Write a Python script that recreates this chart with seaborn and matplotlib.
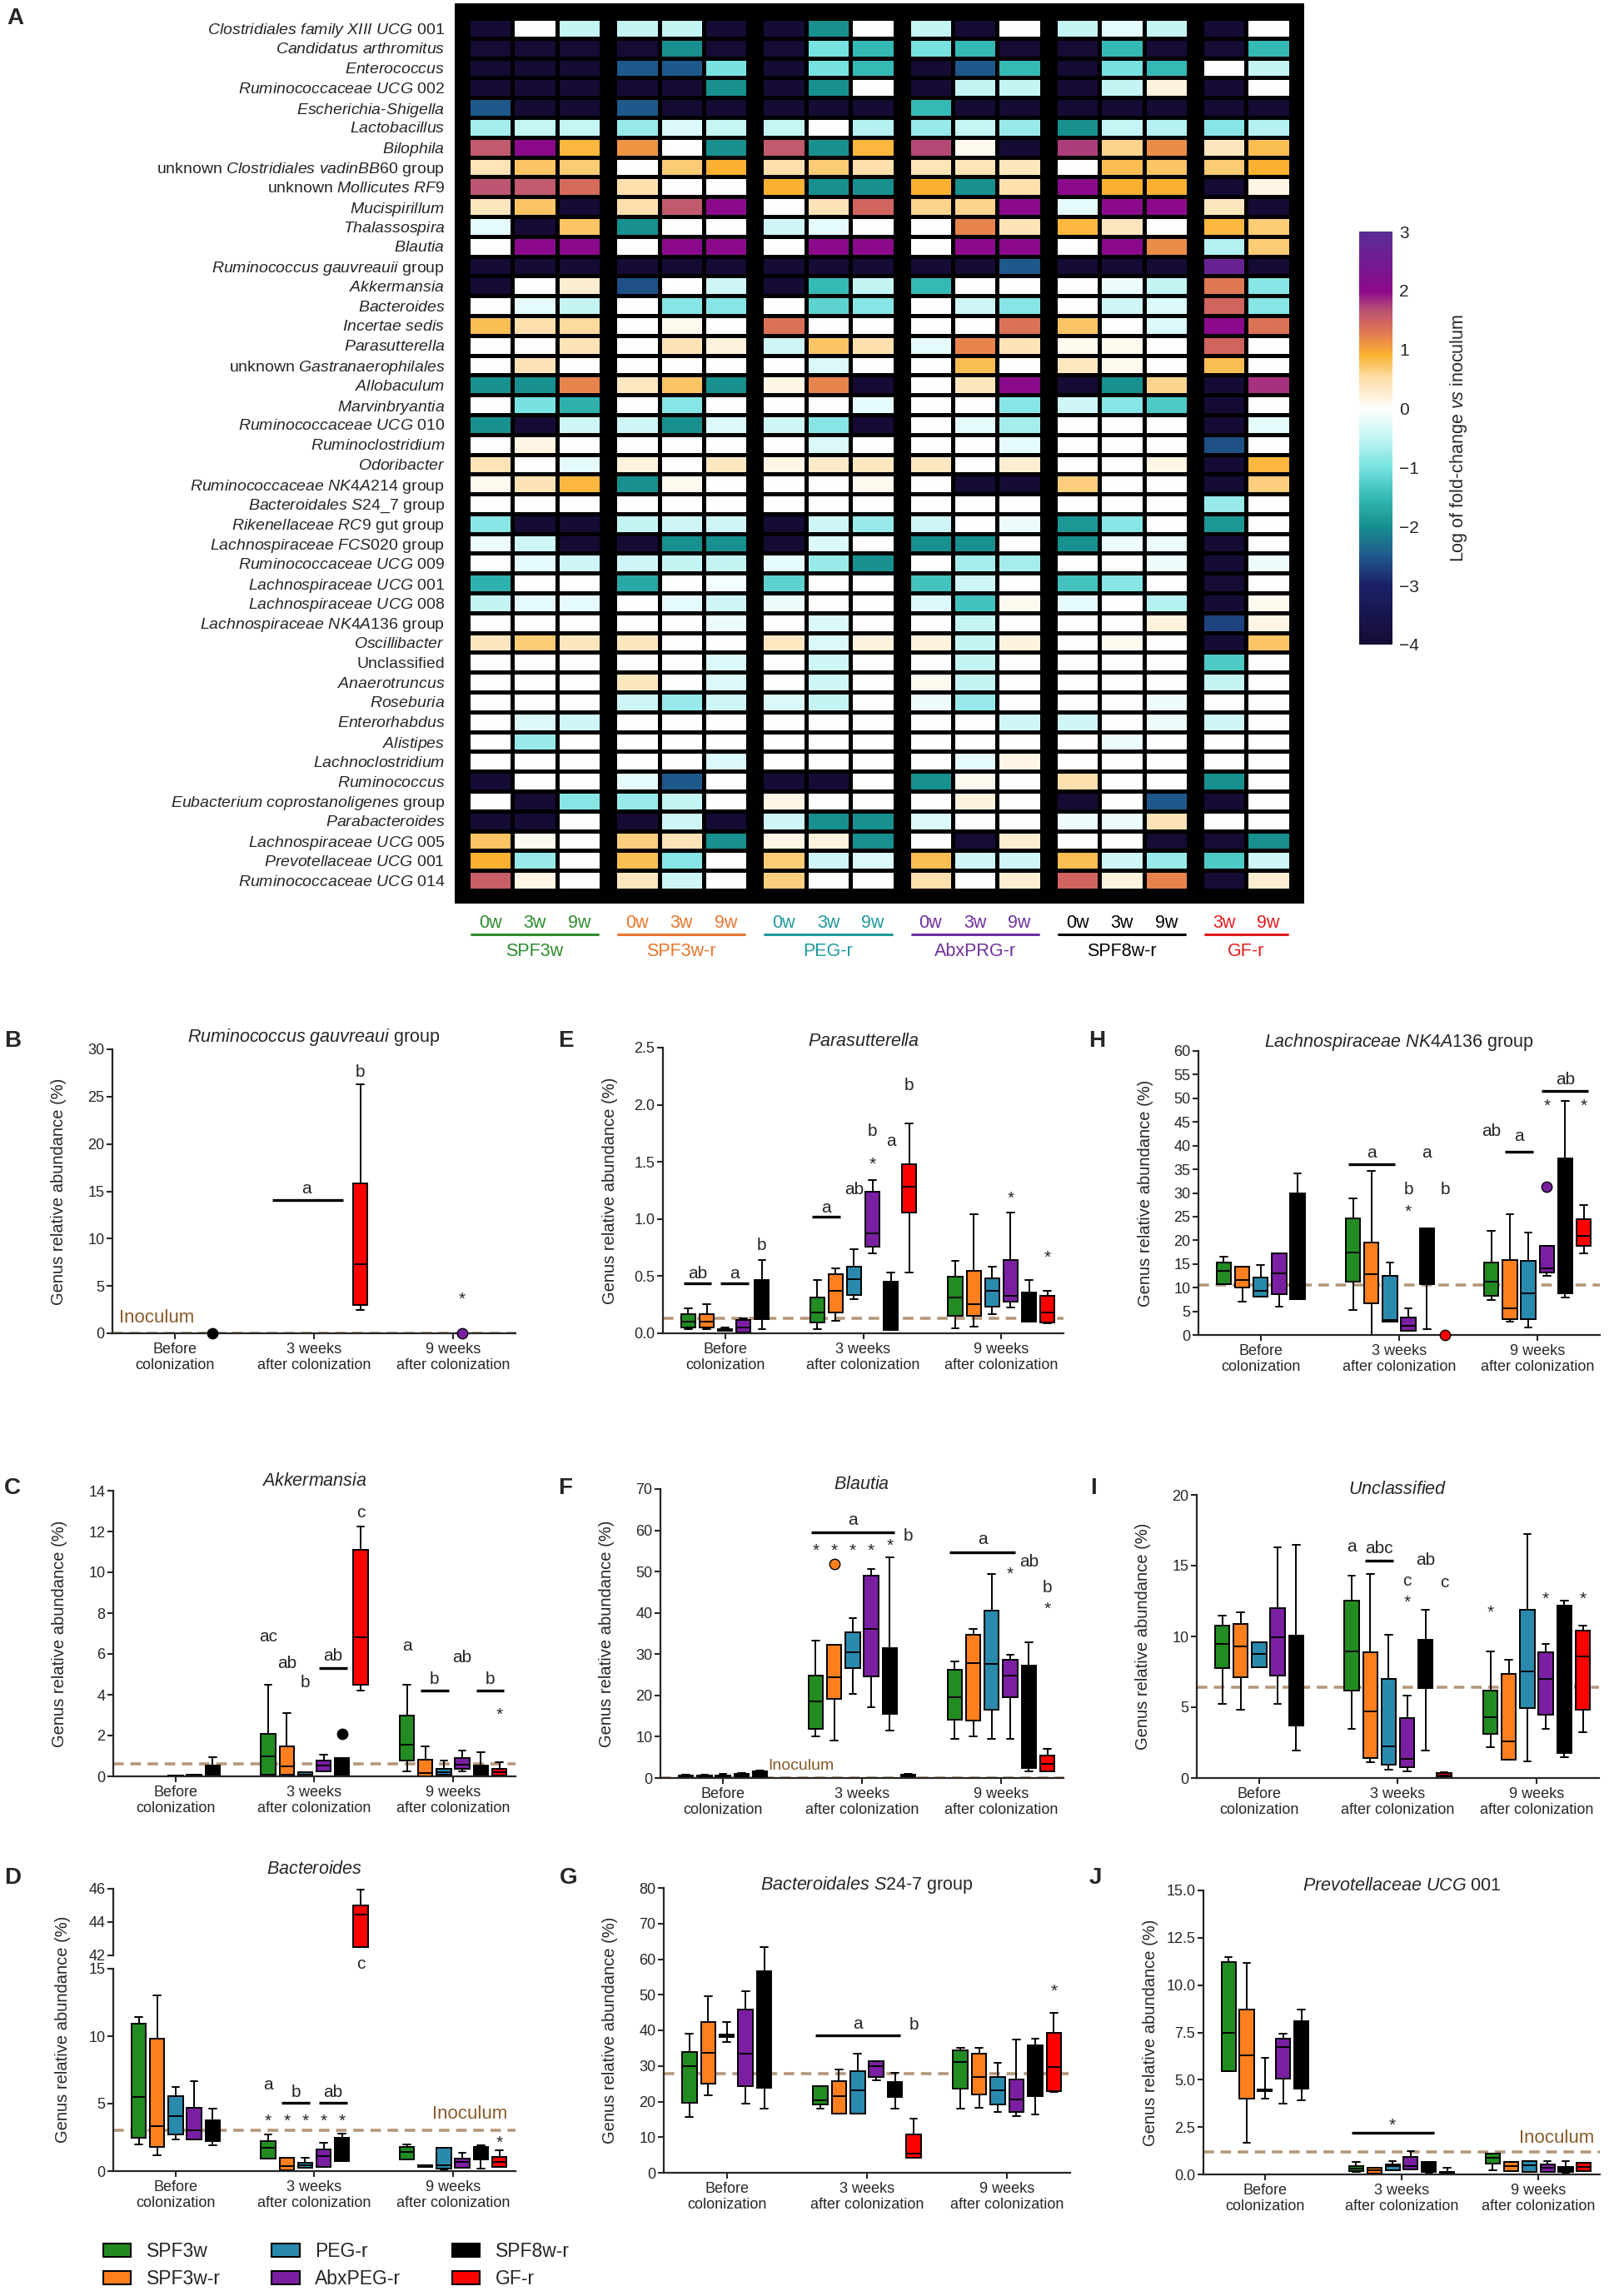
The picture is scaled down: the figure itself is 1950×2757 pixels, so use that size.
import numpy as np
import pandas as pd
import matplotlib
matplotlib.use("Agg")
import matplotlib.pyplot as plt
from matplotlib.colors import LinearSegmentedColormap
from matplotlib.patches import Patch, Rectangle
from matplotlib.lines import Line2D
import seaborn as sns

# ---------------- panel A: log fold-change vs inoculum ----------------
genera = ["Clostridiales family XIII UCG 001", "Candidatus arthromitus", "Enterococcus",
          "Ruminococcaceae UCG 002", "Escherichia-Shigella", "Lactobacillus", "Bilophila",
          "unknown Clostridiales vadinBB60 group", "unknown Mollicutes RF9", "Mucispirillum",
          "Thalassospira", "Blautia", "Ruminococcus gauvreauii group", "Akkermansia", "Bacteroides",
          "Incertae sedis", "Parasutterella", "unknown Gastranaerophilales", "Allobaculum",
          "Marvinbryantia", "Ruminococcaceae UCG 010", "Ruminoclostridium", "Odoribacter",
          "Ruminococcaceae NK4A214 group", "Bacteroidales S24_7 group", "Rikenellaceae RC9 gut group",
          "Lachnospiraceae FCS020 group", "Ruminococcaceae UCG 009", "Lachnospiraceae UCG 001",
          "Lachnospiraceae UCG 008", "Lachnospiraceae NK4A136 group", "Oscillibacter", "Unclassified",
          "Anaerotruncus", "Roseburia", "Enterorhabdus", "Alistipes", "Lachnoclostridium",
          "Ruminococcus", "Eubacterium coprostanoligenes group", "Parabacteroides",
          "Lachnospiraceae UCG 005", "Prevotellaceae UCG 001", "Ruminococcaceae UCG 014"]
heat_groups = ["SPF3w", "SPF3w-r", "PEG-r", "AbxPRG-r", "SPF8w-r", "GF-r"]
heat_weeks = [["0w", "3w", "9w"]] * 5 + [["3w", "9w"]]

fc_spf3w = [[-4, 0, -0.5], [-4, -4, -4], [-4, -4, -4], [-4, -4, -4], [-2.5, -4, -4],
            [-0.7, -0.5, -0.5], [1.6, 2.0, 0.85], [0.45, 0.75, 0.7], [1.65, 1.6, 1.4], [0.4, 0.75, -4],
            [-0.2, -4, 0.75], [0, 2.0, 2.0], [-4, -4, -4], [-4, 0, 0.25], [0, -0.2, -0.5],
            [0.8, 0.5, 0.55], [0, 0, 0.45], [0, 0.45, 0], [-2, -2, 1.2], [0, -1, -1.6],
            [-2, -4, -0.4], [0, 0.15, 0], [0.45, 0, -0.2], [0.1, 0.45, 0.85], [0, 0, 0],
            [-0.9, -4, -4], [-0.15, -0.4, -4], [0, -0.2, -0.4], [-1.6, 0, 0], [-0.5, -0.2, -0.2],
            [0, 0, 0], [0.4, 0.7, 0.4], [0, 0, 0], [0, 0, 0], [0, 0, 0],
            [0, -0.3, -0.4], [0, -0.8, 0], [0, 0, 0], [-4, 0, 0], [0, -4, -0.9],
            [-4, -4, 0], [0.75, 0.1, 0], [0.9, -0.8, 0], [1.55, 0.15, 0]]
fc_spf3wr = [[-0.5, -0.5, -4], [-4, -2, -4], [-2.5, -2.5, -1], [-4, -4, -2], [-2.5, -4, -4],
             [-0.8, -0.3, -0.5], [1.1, 0, -2], [0, 0.7, 0.9], [0.5, 0, 0], [0.5, 1.6, 2.0],
             [-2, 0, 0], [0, 2.0, 2.0], [-4, -4, -4], [-2.6, 0, -0.4], [0, -0.9, -0.9],
             [0, 0.1, 0], [0, 0.45, 0.2], [0, 0, 0], [0.35, 0.75, -2], [0, -0.9, 0],
             [-0.4, -2, -0.3], [0, 0, 0], [0.2, 0, 0.35], [-2, 0.1, 0], [0, 0, 0],
             [-0.5, -0.4, -0.4], [-4, -2, -2], [-0.4, -0.5, -0.5], [-1.7, 0, -0.1], [0, -0.2, -0.4],
             [0, 0, -0.15], [0.4, 0, 0], [0, 0, -0.3], [0.4, 0, -0.3], [-0.4, -0.8, -0.4],
             [0, 0, 0], [0, 0, 0], [0, 0, -0.3], [-0.2, -2.5, 0], [-0.8, -0.5, 0],
             [-4, -0.4, -4], [0.65, 0.45, -2], [0.8, -0.9, 0], [0.4, -0.4, 0]]
fc_peg = [[-4, -2, 0], [-4, -1, -1.5], [-4, -1, -1.5], [-4, -2, 0], [-4, -4, -4],
          [-0.5, 0, -0.6], [1.6, -2, 0.85], [0.5, 0.7, 0.5], [0.9, -2, -2], [0, 0.45, 1.45],
          [-0.4, -0.2, 0], [0, 2.0, 2.0], [-4, -4, -4], [-4, -1.5, -0.5], [0, -1.2, -0.9],
          [1.35, 0, 0], [-0.4, 0.75, 0.5], [0, -0.3, 0], [0.15, 1.2, -4], [0, 0, -0.2],
          [-0.4, -0.9, -4], [0, -0.3, 0], [0.15, 0.3, 0.35], [0, 0, 0.1], [0, 0, 0],
          [-4, -0.4, -0.8], [-4, -0.3, 0], [-0.2, -0.8, -2], [-1.2, 0, 0], [-0.15, 0, 0],
          [0, -0.3, 0], [0.35, -0.3, 0.2], [0, -0.4, 0], [0, -0.4, 0], [-0.3, -0.5, 0],
          [0, 0, 0], [0, 0, 0], [0, 0, 0], [-4, -4, 0], [0.15, 0, 0],
          [-0.4, -2, -2], [0.15, 0.2, -2], [0.7, -0.4, -0.3], [0.65, 0, 0]]
fc_abx = [[-0.5, -4, 0], [-1, -1.5, -4], [-4, -2.5, -1.5], [-4, -0.5, -0.5], [-1.5, -4, -4],
          [-0.8, -0.5, -0.8], [1.7, 0.1, -4], [0.45, 0.45, 0.4], [0.9, -2, 0.5], [0.6, 0.6, 2.0],
          [0, 1.2, 0.45], [0, 2.0, 2.0], [-4, -4, -2.5], [-1.5, 0, 0], [0, -0.4, -0.9],
          [0, 0, 1.35], [-0.2, 1.2, 0.45], [0, 0.8, 0], [0, 0.4, 2.0], [0, 0, -0.9],
          [0, -0.2, -0.7], [0, 0, -0.2], [0.35, 0, 0.25], [0, -4, -4], [0, 0, 0],
          [-0.4, 0, -0.15], [-2, -2, 0], [0, -0.7, -0.7], [-1.4, -0.4, 0], [-0.3, -1.4, 0.1],
          [0, -0.5, 0], [0.2, -0.5, 0.2], [0, -0.5, 0], [0.1, -0.5, 0], [-0.15, -0.8, 0],
          [0, 0, -0.4], [0, 0, 0], [0, -0.2, 0.15], [-2, 0.1, 0], [0, 0.2, 0],
          [-0.3, 0, 0], [0, -4, 0.25], [0.8, -0.4, -0.4], [0.5, 0, 0.25]]
fc_spf8w = [[-0.5, -0.2, -0.5], [-4, -1.5, -4], [-4, -1, -1.5], [-4, -0.5, 0.2], [-4, -4, -4],
            [-2, -0.5, -0.6], [1.75, 0.6, 1.15], [0, 0.8, 0.75], [2.0, 0.9, 0.9], [-0.2, 2.0, 2.0],
            [0.85, 0.4, 0], [0, 2.0, 1.15], [-4, -4, -4], [0, -0.15, -0.5], [0, -0.4, -0.3],
            [0.75, 0, -0.3], [0.1, 0.1, 0], [0.35, 0.1, 0], [-4, -2, 0.6], [-0.4, -0.9, -1.3],
            [0, 0, 0], [0, 0, 0], [0, 0, 0.15], [0.65, 0, 0], [0, 0, 0],
            [-1.9, -0.9, 0], [-2, -0.15, -0.15], [0, 0, -0.15], [-1.4, -0.9, 0], [-0.2, 0, -0.6],
            [0, 0, 0.2], [0, 0.1, 0], [0, 0, 0], [0, 0, 0], [0, 0, -0.15],
            [-0.4, 0, -0.15], [0, -0.15, 0], [0, 0, 0], [0.5, 0, 0], [-4, 0, -2.5],
            [-0.15, -0.15, 0.45], [0, 0, -4], [0.8, -0.4, -0.8], [1.45, 0.2, 1.2]]
fc_gf = [[-4, 0], [-4, -1.5], [0, -0.5], [-4, 0], [-4, -4],
         [-0.9, -0.6], [0.4, 0.8], [0.7, 0.9], [-4, 0.15], [0.4, -4],
         [0.85, 0.7], [-0.6, 0.7], [2.7, -4], [1.3, -0.9], [1.45, -0.9],
         [2.0, 1.35], [1.45, 0], [0.8, 0], [-4, 1.8], [-4, 0],
         [-4, -0.2], [-2.6, 0], [-4, 0.85], [-4, 0.65], [-0.8, 0],
         [-1.9, 0], [-4, 0], [-4, -0.15], [-4, 0], [-4, 0.1],
         [-2.7, 0.15], [-4, 0.75], [-1.3, 0], [-0.5, 0], [0, 0],
         [-0.4, 0], [0, 0], [0, 0], [-2, 0], [-4, 0],
         [0, 0], [-4, -2], [-1.3, -0.4], [-4, 0.25]]

# ---------------- panels B-J: genus relative abundance (%) ----------------
# each box: [min, q1, median, q3, max]; order = before (5 groups), 3 weeks (6), 9 weeks (6)
groups = ["SPF3w", "SPF3w-r", "PEG-r", "AbxPEG-r", "SPF8w-r", "GF-r"]
times = ["Before\ncolonization", "3 weeks\nafter colonization", "9 weeks\nafter colonization"]

rgg_boxes = [[0, 0, 0, 0, 0]] * 5 + [[0, 0, 0, 0, 0]] * 5 + [[2.5, 3.0, 7.3, 15.8, 26.3]] + [[0, 0, 0, 0, 0]] * 6
rgg_out = [(0, "SPF8w-r", 0.0), (2, "AbxPEG-r", 0.0)]
rgg_bars = [(1, 0.5, 3.8, 14.1)]
rgg_marks = [("a", 1, 2.1, 15.3), ("b", 1, 5, 27.6), ("*", 2, 3, 3.6)]

para_boxes = [[0.034, 0.054, 0.10, 0.168, 0.217], [0.034, 0.049, 0.10, 0.168, 0.253],
              [0.02, 0.025, 0.03, 0.035, 0.05], [0.0, 0.005, 0.049, 0.114, 0.13],
              [0.034, 0.127, 0.30, 0.467, 0.645],
              [0.034, 0.097, 0.18, 0.316, 0.467], [0.11, 0.18, 0.37, 0.516, 0.572],
              [0.30, 0.338, 0.475, 0.584, 0.735], [0.70, 0.76, 0.876, 1.24, 1.344],
              [0.03, 0.03, 0.30, 0.455, 0.533], [0.53, 1.06, 1.28, 1.478, 1.835],
              [0.046, 0.151, 0.316, 0.497, 0.633], [0.058, 0.15, 0.253, 0.545, 1.044],
              [0.17, 0.236, 0.375, 0.48, 0.58], [0.224, 0.277, 0.33, 0.638, 1.06],
              [0.10, 0.10, 0.20, 0.358, 0.47], [0.09, 0.095, 0.18, 0.33, 0.37]]
para_bars = [(0, 0, 1, 0.435), (0, 2, 3, 0.435), (1, 0, 1, 1.02)]
para_marks = [("ab", 0, 0.5, 0.52), ("a", 0, 2.5, 0.52), ("b", 0, 4, 0.77), ("a", 1, 0.5, 1.1),
              ("ab", 1, 2, 1.26), ("*", 1, 3, 1.48), ("b", 1, 3, 1.77), ("a", 1, 4, 1.68),
              ("b", 1, 5, 2.17), ("*", 2, 3, 1.18), ("*", 2, 5, 0.66)]

nk136_boxes = [[10.7, 10.7, 13.5, 15.25, 16.5], [7.0, 10.0, 11.6, 14.4, 14.4],
               [8.1, 8.1, 9.4, 12.2, 14.7], [5.9, 8.6, 13.1, 17.2, 17.2], [7.5, 7.5, 15.0, 30.0, 34.2],
               [5.2, 11.2, 17.5, 24.7, 28.8], [0.0, 6.7, 12.9, 19.5, 34.6], [2.8, 2.9, 3.1, 12.5, 15.3],
               [0.8, 0.9, 1.9, 3.7, 5.6], [1.2, 10.7, 18.0, 22.5, 22.5], [0, 0, 0, 0, 0],
               [7.4, 8.3, 11.2, 15.25, 22.0], [2.8, 3.4, 5.7, 15.8, 25.5], [1.5, 3.4, 8.8, 15.6, 21.7],
               [12.5, 13.2, 14.1, 18.9, 18.9], [8.0, 8.8, 20.0, 37.3, 49.4], [17.2, 18.8, 20.9, 24.4, 27.4]]
nk136_out = [(1, "GF-r", 0.0), (2, "AbxPEG-r", 31.4)]
nk136_bars = [(1, 0, 2, 36.0), (2, 1, 2, 38.7), (2, 3, 5, 51.6)]
nk136_marks = [("a", 1, 1, 38.4), ("a", 1, 4, 38.4), ("b", 1, 3, 30.7), ("*", 1, 3, 26.0),
               ("b", 1, 5, 30.7), ("ab", 2, 0, 43.0), ("a", 2, 1.5, 42.0), ("ab", 2, 4, 54.0),
               ("*", 2, 3, 48.3), ("*", 2, 5, 48.3)]

akk_boxes = [[0, 0, 0, 0, 0], [0, 0, 0, 0, 0], [0, 0, 0.02, 0.04, 0.05], [0, 0.02, 0.05, 0.08, 0.1],
             [0, 0, 0.3, 0.52, 0.95],
             [0.08, 0.08, 0.99, 2.1, 4.5], [0.08, 0.08, 0.49, 1.47, 3.1], [0.0, 0.04, 0.1, 0.22, 0.22],
             [0.25, 0.25, 0.54, 0.76, 1.06], [0, 0, 0.5, 0.9, 0.9], [4.22, 4.47, 6.82, 11.1, 12.26],
             [0.25, 0.79, 1.54, 2.97, 4.47], [0, 0, 0.18, 0.82, 1.47], [0, 0.08, 0.22, 0.38, 0.76],
             [0.25, 0.38, 0.59, 0.9, 1.27], [0, 0, 0.2, 0.54, 1.2], [0, 0.05, 0.2, 0.38, 0.68]]
akk_out = [(1, "SPF8w-r", 2.1)]
akk_bars = [(1, 3, 4, 5.32), (2, 1, 2, 4.2), (2, 4, 5, 4.2)]
akk_marks = [("ac", 1, 0, 6.85), ("ab", 1, 1, 5.55), ("b", 1, 2, 4.6), ("ab", 1, 3.5, 5.9),
             ("c", 1, 5, 12.9), ("a", 2, 0, 6.37), ("b", 2, 1.5, 4.74), ("ab", 2, 3, 5.83),
             ("b", 2, 4.5, 4.74), ("*", 2, 5, 3.0)]

blautia_boxes = [[0.1, 0.2, 0.35, 0.6, 0.9], [0.1, 0.2, 0.4, 0.6, 0.9], [0.1, 0.2, 0.4, 0.7, 1.0],
                 [0.2, 0.4, 0.7, 1.0, 1.2], [0.3, 0.5, 1.0, 1.6, 1.8],
                 [10.1, 11.9, 18.6, 24.9, 33.3], [9.1, 19.1, 24.4, 32.2, 32.2], [20.3, 26.7, 30.4, 35.3, 38.8],
                 [17.1, 24.7, 36.1, 49.0, 50.6], [11.4, 15.6, 22.0, 31.4, 53.4], [0.1, 0.3, 0.5, 0.8, 1.0],
                 [9.4, 14.1, 19.6, 26.2, 28.3], [10.1, 13.9, 27.9, 34.6, 36.1], [9.4, 16.5, 27.7, 40.6, 49.4],
                 [9.4, 19.5, 24.9, 28.6, 29.8], [1.7, 2.5, 10.0, 27.3, 32.9], [1.6, 1.7, 3.4, 5.4, 7.1]]
blautia_out = [(1, "SPF3w-r", 51.9)]
blautia_bars = [(1, 0, 4, 59.5), (2, 0, 3, 54.7)]
blautia_marks = [("a", 1, 2, 62.4), ("*", 1, 0, 55), ("*", 1, 1, 55), ("*", 1, 2, 55), ("*", 1, 3, 55),
                 ("*", 1, 4, 56.2), ("b", 1, 5, 58.7), ("a", 2, 1.5, 57.8), ("ab", 2, 4, 52.4),
                 ("*", 2, 3, 49.4), ("b", 2, 5, 46.0), ("*", 2, 5, 40.8)]

uncl_boxes = [[5.24, 7.75, 9.47, 10.78, 11.5], [4.8, 7.1, 9.27, 10.9, 11.7], [7.84, 7.84, 8.76, 9.57, 9.57],
              [5.24, 7.25, 9.96, 12.0, 16.3], [1.96, 3.69, 7.0, 10.06, 16.5],
              [3.47, 6.18, 8.96, 12.55, 14.3], [1.12, 1.43, 4.7, 8.86, 14.4], [0.59, 0.92, 2.25, 7.0, 10.1],
              [0.49, 0.78, 1.37, 4.25, 5.82], [1.96, 6.33, 8.0, 9.76, 11.9], [0.05, 0.1, 0.2, 0.35, 0.4],
              [2.2, 3.14, 4.27, 6.18, 8.96], [1.27, 1.27, 2.6, 7.35, 8.37], [1.18, 4.96, 7.55, 11.9, 17.25],
              [3.47, 4.47, 7.02, 8.86, 9.5], [1.5, 1.76, 7.0, 12.2, 12.55], [3.24, 4.84, 8.57, 10.4, 10.75]]
uncl_bars = [(1, 1, 2, 15.35)]
uncl_marks = [("a", 1, 0, 16.3), ("abc", 1, 1.5, 16.2), ("c", 1, 3, 13.9), ("*", 1, 3, 12.4),
              ("ab", 1, 4, 15.4), ("c", 1, 5, 13.8), ("*", 2, 0, 11.7), ("*", 2, 3, 12.6), ("*", 2, 5, 12.6)]

bact_boxes = [[2.0, 2.47, 5.49, 10.9, 11.4], [1.18, 1.8, 3.36, 9.84, 13.0], [2.32, 2.69, 4.08, 5.57, 6.26],
              [2.32, 2.32, 3.05, 4.7, 6.67], [1.9, 2.22, 3.0, 3.77, 4.6],
              [0.93, 0.93, 1.7, 2.22, 2.69], [0, 0.04, 0.35, 0.97, 0.97], [0.25, 0.25, 0.45, 0.62, 0.97],
              [0.29, 0.29, 1.12, 1.6, 2.07], [0.77, 0.77, 1.8, 2.47, 2.8], [42.5, 42.5, 44.45, 45.0, 45.95],
              [0.87, 0.87, 1.39, 1.76, 1.97], [0.3, 0.3, 0.4, 0.45, 0.45], [0.04, 0.21, 0.45, 1.7, 1.7],
              [0.25, 0.25, 0.7, 0.93, 1.33], [0.2, 0.87, 1.3, 1.76, 1.9], [0.29, 0.29, 0.7, 1.08, 1.53]]
bact_bars = [(1, 1, 2, 5.05), (1, 3, 4, 5.05)]
bact_marks = [("a", 1, 0, 6.36), ("b", 1, 1.5, 5.84), ("ab", 1, 3.5, 5.84), ("*", 1, 0, 3.67),
              ("*", 1, 1, 3.67), ("*", 1, 2, 3.67), ("*", 1, 3, 3.67), ("*", 1, 4, 3.67), ("*", 2, 5, 2.1)]
bact_upper_marks = [("c", 1, 5, 41.45)]

s24_boxes = [[15.7, 19.7, 29.9, 33.9, 39.1], [21.8, 25.0, 33.8, 42.3, 49.7], [36.8, 38.2, 38.5, 38.8, 42.3],
             [19.5, 24.4, 33.5, 45.8, 50.9], [17.9, 23.8, 35.0, 56.6, 63.5],
             [18.1, 19.1, 20.4, 24.4, 24.4], [16.5, 16.5, 21.6, 25.8, 28.9], [16.5, 16.5, 23.2, 28.5, 33.5],
             [25.9, 27.0, 29.9, 31.4, 31.4], [18.1, 21.2, 23.0, 25.4, 28.0], [4.2, 4.2, 5.3, 10.8, 15.2],
             [17.9, 23.6, 31.1, 34.3, 35.2], [18.3, 22.0, 26.8, 33.4, 35.0], [17.1, 19.1, 23.2, 26.8, 30.9],
             [16.0, 17.1, 20.7, 26.2, 37.4], [16.3, 21.5, 28.0, 35.8, 37.6], [22.6, 23.0, 29.7, 39.4, 44.8]]
s24_bars = [(1, 0, 4, 38.7)]
s24_marks = [("a", 1, 2, 41.8), ("b", 1, 5, 41.6), ("*", 2, 5, 51.0)]

prev_boxes = [[5.45, 5.45, 7.48, 11.22, 11.49], [1.67, 4.01, 6.29, 8.71, 11.18], [4.0, 4.4, 4.46, 4.5, 6.15],
              [3.75, 5.05, 6.71, 7.18, 7.42], [3.9, 4.52, 6.5, 8.11, 8.71],
              [0.15, 0.19, 0.3, 0.44, 0.64], [0.04, 0.05, 0.2, 0.34, 0.37], [0.2, 0.24, 0.42, 0.52, 0.71],
              [0.25, 0.27, 0.45, 0.93, 1.23], [0.1, 0.12, 0.4, 0.64, 0.67], [0.0, 0.05, 0.1, 0.15, 0.34],
              [0.24, 0.56, 0.86, 1.08, 1.08], [0.17, 0.19, 0.45, 0.64, 0.67], [0.14, 0.15, 0.5, 0.71, 0.72],
              [0.13, 0.15, 0.35, 0.52, 0.71], [0.1, 0.12, 0.3, 0.41, 0.71], [0.16, 0.16, 0.4, 0.6, 0.6]]
prev_bars = [(1, 0, 4, 2.19)]
prev_marks = [("*", 1, 2, 2.6)]

# ---------------- style ----------------
sns.set_style("ticks")
plt.rcParams["font.family"] = ["Liberation Sans", "DejaVu Sans"]
plt.rcParams["mathtext.fontset"] = "custom"
plt.rcParams["mathtext.rm"] = "Liberation Sans"
plt.rcParams["mathtext.it"] = "Liberation Sans:italic"
plt.rcParams["mathtext.bf"] = "Liberation Sans:bold"

colors = ["#228B22", "#FF7F1F", "#2A8AAE", "#7B1FA2", "#000000", "#FF0000"]
heat_colors = ["#2E8B2E", "#E8762C", "#1F9A9E", "#7030A0", "#000000", "#E41A1C"]
inoc_line = "#B5977A"
inoc_text = "#8A5A2B"

anchors = [(-4.0, "#160b34"), (-3.0, "#1b2168"), (-2.5, "#1f5a8c"), (-2.0, "#17908f"),
           (-1.5, "#35b9b5"), (-1.0, "#78e3e1"), (-0.5, "#c2f4f4"), (0.0, "#ffffff"),
           (0.3, "#fdebca"), (0.5, "#fde0ae"), (0.75, "#fbc565"), (0.9, "#fbb22f"),
           (1.2, "#e8864c"), (1.45, "#d2655e"), (1.65, "#bc5672"), (2.0, "#8c0a8c"), (3.0, "#5b2d96")]
fc_cmap = LinearSegmentedColormap.from_list("fc", [((v + 4) / 7, c) for v, c in anchors])

W, H = 1950, 2757
fig = plt.figure(figsize=(W / 100, H / 100), dpi=100)


def px_axes(x0, y0, x1, y1):
    return fig.add_axes([x0 / W, 1 - y1 / H, (x1 - x0) / W, (y1 - y0) / H])


def px_text(x, y, s, **kw):
    return fig.text(x / W, 1 - y / H, s, **kw)


def styled(name, plain):
    out = []
    for w in name.split(" "):
        if w in plain:
            out.append(w)
        else:
            out.append("-".join(r"$\mathit{" + p.replace("_", r"\_") + "}$" for p in w.split("-")))
    return " ".join(out)


# ---------------- A: heatmap ----------------
px_text(18, 22, "A", fontsize=20, fontweight="bold", ha="center", va="center")
fig.add_artist(Rectangle((546 / W, 1 - 1085 / H), 1020 / W, 1081 / H, transform=fig.transFigure,
                         facecolor="black", edgecolor="none", zorder=0))
fc_all = [fc_spf3w, fc_spf3wr, fc_peg, fc_abx, fc_spf8w, fc_gf]
for k, (vals, weeks) in enumerate(zip(fc_all, heat_weeks)):
    x0 = 562 + k * 176.2
    x1 = x0 + 53.4 * len(weeks)
    ax = px_axes(x0, 22, x1, 1069)
    sns.heatmap(pd.DataFrame(vals, index=genera, columns=weeks), ax=ax, cmap=fc_cmap, vmin=-4, vmax=3,
                cbar=False, linewidths=2.5, linecolor="black", xticklabels=False, yticklabels=False)
    ax.set_xlabel("")
    ax.set_ylabel("")
    for i, wk in enumerate(weeks):
        px_text(x0 + 53.4 * (i + 0.5), 1109, wk, ha="center", va="center", fontsize=15.5, color=heat_colors[k])
    fig.add_artist(Line2D([(x0 + 4) / W, (x1 - 4) / W], [1 - 1122 / H] * 2, color=heat_colors[k], lw=2.2))
    px_text((x0 + x1) / 2, 1142, heat_groups[k], ha="center", va="center", fontsize=15.5, color=heat_colors[k])
    if k == 0:
        ax.set_yticks(np.arange(len(genera)) + 0.5)
        ax.set_yticklabels([styled(g, {"unknown", "group", "gut", "Unclassified"}) for g in genera],
                           fontsize=14, rotation=0)
        ax.tick_params(axis="y", length=0, pad=20)

cax = px_axes(1632, 278, 1672, 774)
sm = plt.cm.ScalarMappable(norm=plt.Normalize(-4, 3), cmap=fc_cmap)
cb = fig.colorbar(sm, cax=cax, ticks=range(-4, 4))
cb.outline.set_visible(False)
cax.tick_params(labelsize=15, length=6, width=2, color="white", direction="in", pad=6)
cax.yaxis.get_major_ticks()[4].tick2line.set_color("black")
px_text(1752, 526, r"Log of fold-change $\mathit{vs}$ inoculum", rotation=90, ha="center", va="center",
        fontsize=15.5)

# ---------------- B-J: box plots ----------------
SLOT = 0.8 / 6
box_keys = [(0, g) for g in groups[:5]] + [(t, g) for t in (1, 2) for g in groups]


def slot_x(t, s):
    return t + (s - (2 if t == 0 else 2.5)) * SLOT


def draw_boxes(ax, stats):
    df = pd.DataFrame([(t, g, v) for (t, g), s in zip(box_keys, stats) for v in s],
                      columns=["time", "group", "value"])
    kw = dict(x="time", y="value", hue="group", native_scale=True, whis=(0, 100), gap=0.22,
              saturation=1, linecolor="black", linewidth=1.4, fliersize=0, legend=False, ax=ax)
    sns.boxplot(data=df[df.time == 0], hue_order=groups[:5], palette=colors[:5], width=0.8 * 5 / 6, **kw)
    sns.boxplot(data=df[df.time > 0], hue_order=groups, palette=colors, width=0.8, **kw)


def finish(ax, ylim, yticks, ytl, xaxis=True):
    ax.set_xlim(-0.45, 2.45)
    ax.set_ylim(*ylim)
    ax.set_yticks(yticks)
    ax.set_yticklabels(ytl)
    ax.set_xlabel("")
    ax.set_ylabel("")
    for sp in ["top", "right"]:
        ax.spines[sp].set_visible(False)
    for sp in ["left", "bottom"]:
        ax.spines[sp].set_linewidth(1.6)
    ax.tick_params(axis="y", labelsize=13, width=1.5, length=5, pad=2)
    if xaxis:
        ax.set_xticks([0, 1, 2])
        ax.set_xticklabels(times, fontsize=13, linespacing=1.15)
        ax.tick_params(axis="x", width=1.5, length=5, pad=3)
    else:
        ax.spines["bottom"].set_visible(False)
        ax.set_xticks([])


def annotate(ax, marks, bars):
    for t, a, b, y in bars:
        ax.plot([slot_x(t, a) - 0.035, slot_x(t, b) + 0.035], [y, y], color="black", lw=2.4,
                solid_capstyle="butt", clip_on=False)
    for txt, t, s, y in marks:
        ax.text(slot_x(t, s), y, txt, ha="center", va="center", fontsize=15, clip_on=False)


def panel(box, letter, letter_xy, title, title_y, stats, ylim, yticks, ytl, inoc,
          marks, bars, outliers=(), inoc_label=None):
    ax = px_axes(*box)
    draw_boxes(ax, stats)
    ax.axhline(inoc, color=inoc_line, lw=2.6, ls=(0, (3.5, 2.2)), zorder=0.5)
    for t, g, v in outliers:
        gi = groups.index(g)
        sns.scatterplot(x=[slot_x(t, gi)], y=[v], color=colors[gi], s=80, edgecolor="black",
                        linewidth=1, ax=ax, zorder=6, clip_on=False, legend=False)
    annotate(ax, marks, bars)
    finish(ax, ylim, yticks, ytl)
    ax.set_ylabel("Genus relative abundance (%)", fontsize=14.5)
    ax.yaxis.set_label_coords(-0.113, 0.5)
    px_text((box[0] + box[2]) / 2, title_y, styled(title, {"group"}), ha="center", va="center", fontsize=15.5)
    px_text(letter_xy[0], letter_xy[1], letter, fontsize=20, fontweight="bold", ha="center", va="center")
    if inoc_label is not None:
        x, y, ha, fs = inoc_label
        ax.text(x, y, "Inoculum", ha=ha, va="center", fontsize=fs, color=inoc_text)
    return ax


panel((135, 1260, 619, 1601), "B", (15, 1250), "Ruminococcus gauvreaui group", 1245, rgg_boxes,
      (0, 30), range(0, 31, 5), [str(v) for v in range(0, 31, 5)], 0.0, rgg_marks, rgg_bars,
      rgg_out, (-0.40, 1.6, "left", 16))
panel((796, 1258, 1277, 1601), "E", (679, 1250), "Parasutterella", 1250, para_boxes,
      (0, 2.5), np.arange(0, 2.51, 0.5), ["%.1f" % v for v in np.arange(0, 2.51, 0.5)], 0.13,
      para_marks, para_bars)
panel((1439, 1262, 1921, 1603), "H", (1317, 1250), "Lachnospiraceae NK4A136 group", 1252, nk136_boxes,
      (0, 60), range(0, 61, 5), [str(v) for v in range(0, 61, 5)], 10.6, nk136_marks, nk136_bars, nk136_out)
panel((136, 1790, 619, 2133), "C", (15, 1787), "Akkermansia", 1778, akk_boxes,
      (0, 14), range(0, 15, 2), [str(v) for v in range(0, 15, 2)], 0.63, akk_marks, akk_bars, akk_out)
panel((793, 1788, 1277, 2135), "F", (679, 1787), "Blautia", 1782, blautia_boxes,
      (0, 70), range(0, 71, 10), [str(v) for v in range(0, 71, 10)], 0.1, blautia_marks, blautia_bars,
      blautia_out, (0.56, 2.9, "center", 14))
panel((1437, 1795, 1920, 2135), "I", (1313, 1787), "Unclassified", 1788, uncl_boxes,
      (0, 20), range(0, 21, 5), [str(v) for v in range(0, 21, 5)], 6.41, uncl_marks, uncl_bars)
axd = panel((136, 2364, 619, 2607), "D", (15, 2255), "Bacteroides", 2245, bact_boxes,
            (0, 15), [0, 5, 10, 15], ["0", "5", "10", "15"], 3.05, bact_marks, bact_bars,
            (), (2.39, 4.2, "right", 16))
axd.yaxis.set_label_coords(-0.105, 0.70)
axu = px_axes(136, 2268, 619, 2348)
draw_boxes(axu, bact_boxes)
annotate(axu, bact_upper_marks, [])
finish(axu, (42, 46), [42, 44, 46], ["42", "44", "46"], xaxis=False)
panel((797, 2267, 1285, 2609), "G", (683, 2255), "Bacteroidales S24-7 group", 2264, s24_boxes,
      (0, 80), range(0, 81, 10), [str(v) for v in range(0, 81, 10)], 27.9, s24_marks, s24_bars)
panel((1445, 2270, 1921, 2611), "J", (1315, 2255), "Prevotellaceae UCG 001", 2264, prev_boxes,
      (0, 15), np.arange(0, 15.1, 2.5), ["%.1f" % v for v in np.arange(0, 15.1, 2.5)], 1.2,
      prev_marks, prev_bars, (), (2.41, 1.9, "right", 16))

handles = [Patch(facecolor=c, edgecolor="black", linewidth=1.5) for c in colors]
fig.legend(handles, groups, ncol=3, loc="upper left", bbox_to_anchor=(124 / W, 1 - 2692 / H),
           frameon=False, fontsize=16.5, handlelength=1.45, handleheight=0.7, handletextpad=0.8,
           columnspacing=2.7, labelspacing=0.45, borderaxespad=0, borderpad=0)

fig.savefig("out.png", dpi=100)
